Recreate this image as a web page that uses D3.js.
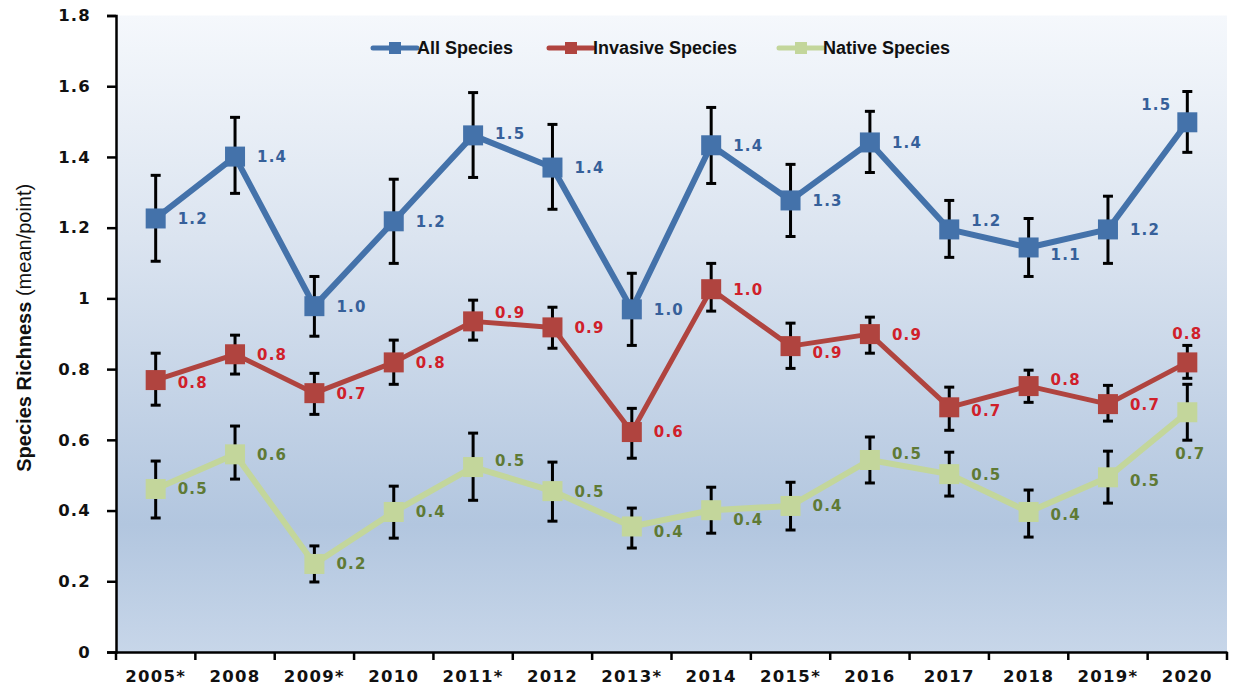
<!DOCTYPE html>
<html>
<head>
<meta charset="utf-8">
<script src="https://cdn.jsdelivr.net/npm/d3@7"></script>
<style>
  html, body { margin: 0; padding: 0; background: #ffffff; }
  svg { display: block; }
</style>
</head>
<body>
<svg id="chart" width="1235" height="691"></svg>
<script>
// ---------------- DATA ----------------
const years = ["2005*", "2008", "2009*", "2010", "2011*", "2012", "2013*", "2014", "2015*", "2016", "2017", "2018", "2019*", "2020"];
const yTicks = [0, 0.2, 0.4, 0.6, 0.8, 1, 1.2, 1.4, 1.6, 1.8];

const allSpecies = [1.226, 1.401, 0.978, 1.218, 1.461, 1.370, 0.969, 1.433, 1.277, 1.441, 1.195, 1.144, 1.195, 1.498];
const allUpper   = [1.348, 1.512, 1.062, 1.337, 1.582, 1.492, 1.071, 1.540, 1.379, 1.529, 1.277, 1.226, 1.289, 1.585];
const allLower   = [1.105, 1.297, 0.893, 1.099, 1.342, 1.252, 0.867, 1.325, 1.175, 1.356, 1.116, 1.062, 1.099, 1.413];

const invasiveSpecies = [0.769, 0.842, 0.732, 0.819, 0.935, 0.918, 0.622, 1.026, 0.865, 0.899, 0.692, 0.752, 0.701, 0.819];
const invasiveUpper   = [0.845, 0.896, 0.788, 0.882, 0.995, 0.975, 0.689, 1.099, 0.930, 0.947, 0.749, 0.797, 0.754, 0.867];
const invasiveLower   = [0.698, 0.786, 0.672, 0.757, 0.882, 0.859, 0.548, 0.964, 0.802, 0.845, 0.627, 0.706, 0.653, 0.774];

const nativeSpecies = [0.461, 0.559, 0.249, 0.396, 0.523, 0.455, 0.355, 0.401, 0.413, 0.543, 0.503, 0.396, 0.494, 0.678];
const nativeUpper   = [0.540, 0.639, 0.300, 0.469, 0.619, 0.537, 0.407, 0.466, 0.480, 0.608, 0.565, 0.458, 0.568, 0.757];
const nativeLower   = [0.379, 0.489, 0.198, 0.322, 0.429, 0.370, 0.294, 0.336, 0.345, 0.478, 0.441, 0.325, 0.421, 0.599];

const seriesNames = ["All Species", "Invasive Species", "Native Species"];

// ---------------- LAYOUT / STYLE ----------------
const W = 1235, H = 691;
const plot = { left: 116, right: 1227, top: 15.5, bottom: 652 };

// label placement tweaks (pixel offsets, layout only)
const D = { dx: 22, dy: 0, anchor: "start" };
const allLabelPos = [D, D, D, D, {dx:22,dy:-2}, D, D, D, D, D, {dx:22,dy:-9}, {dx:22,dy:7}, D, {dx:-16,dy:-18,anchor:"end"}];
const invLabelPos = [{dx:22,dy:3}, D, D, D, {dx:22,dy:-9}, D, D, D, {dx:22,dy:6}, D, {dx:22,dy:3}, {dx:22,dy:-6}, D, {dx:0,dy:-29,anchor:"middle"}];
const natLabelPos = [D, D, D, D, {dx:22,dy:-6}, D, {dx:22,dy:5}, {dx:22,dy:9}, D, {dx:22,dy:-6}, D, {dx:22,dy:3}, {dx:22,dy:3}, {dx:3,dy:41,anchor:"middle"}];

const series = [
  { name: seriesNames[0], values: allSpecies, upper: allUpper, lower: allLower, line: "#4472aa", fill: "#4472aa", label: "#36609a", width: 6, pos: allLabelPos },
  { name: seriesNames[1], values: invasiveSpecies, upper: invasiveUpper, lower: invasiveLower, line: "#b0443f", fill: "#b0443f", label: "#d0202a", width: 5, pos: invLabelPos },
  { name: seriesNames[2], values: nativeSpecies, upper: nativeUpper, lower: nativeLower, line: "#c3d69b", fill: "#c3d69b", label: "#5f7a35", width: 6, pos: natLabelPos }
];

const svg = d3.select("#chart");

const x = d3.scaleBand().domain(years).range([plot.left, plot.right]).padding(0);
const y = d3.scaleLinear().domain([0, 1.8]).range([plot.bottom, plot.top]);
const cx = d => x(d) + x.bandwidth() / 2;

// background gradient
const defs = svg.append("defs");
const grad = defs.append("linearGradient").attr("id", "bg").attr("x1", 0).attr("y1", 0).attr("x2", 0).attr("y2", 1);
grad.append("stop").attr("offset", "0%").attr("stop-color", "#f5f8fc");
grad.append("stop").attr("offset", "35%").attr("stop-color", "#dbe4f0");
grad.append("stop").attr("offset", "80%").attr("stop-color", "#b2c6df");
grad.append("stop").attr("offset", "100%").attr("stop-color", "#c7d6e9");

svg.append("rect")
  .attr("x", plot.left).attr("y", plot.top)
  .attr("width", plot.right - plot.left).attr("height", plot.bottom - plot.top)
  .attr("fill", "url(#bg)");

// axes
const yAxis = d3.axisLeft(y).tickValues(yTicks).tickSize(9).tickPadding(16)
  .tickFormat(d => d === 0 ? "0" : String(+d.toFixed(1)));
const gy = svg.append("g").attr("transform", `translate(${plot.left},0)`).call(yAxis);
gy.select(".domain").attr("stroke", "#000").attr("stroke-width", 2.5);
gy.selectAll(".tick line").attr("stroke", "#000").attr("stroke-width", 2.5);
gy.selectAll(".tick text")
  .attr("font-family", "DejaVu Sans").attr("font-weight", "bold").attr("font-size", 16.5)
  .attr("fill", "#111").attr("letter-spacing", 1.2);

const xAxis = d3.axisBottom(x).tickSize(0).tickPadding(18);
const gx = svg.append("g").attr("transform", `translate(0,${plot.bottom})`).call(xAxis);
gx.select(".domain").attr("stroke", "#000").attr("stroke-width", 2.5);
gx.selectAll(".tick text")
  .attr("font-family", "DejaVu Sans").attr("font-weight", "bold").attr("font-size", 16.5)
  .attr("fill", "#111").attr("letter-spacing", 1.3);
// boundary ticks between categories
const bounds = years.map(d => x(d)).concat([x(years[years.length - 1]) + x.bandwidth()]);
gx.selectAll(".bound").data(bounds).enter().append("line")
  .attr("x1", d => d).attr("x2", d => d).attr("y1", 0).attr("y2", 8)
  .attr("stroke", "#000").attr("stroke-width", 2.5);

// y axis title
const yt = svg.append("text")
  .attr("transform", `translate(31,${(plot.top + plot.bottom) / 2 - 6}) rotate(-90)`)
  .attr("text-anchor", "middle")
  .attr("font-family", "Liberation Sans").attr("font-size", 20).attr("fill", "#111");
yt.append("tspan").attr("font-weight", "bold").text("Species Richness ");
yt.append("tspan").text("(mean/point)");

// lines
const lineGen = d3.line().x((d, i) => cx(years[i])).y(d => y(d));
series.forEach(s => {
  svg.append("path").datum(s.values)
    .attr("d", lineGen).attr("fill", "none")
    .attr("stroke", s.line).attr("stroke-width", s.width)
    .attr("stroke-linejoin", "round");
});

// error bars
series.forEach(s => {
  const g = svg.append("g");
  s.values.forEach((v, i) => {
    const xx = cx(years[i]);
    g.append("line").attr("x1", xx).attr("x2", xx).attr("y1", y(s.upper[i])).attr("y2", y(s.lower[i]))
      .attr("stroke", "#000").attr("stroke-width", 3);
    [s.upper[i], s.lower[i]].forEach(e => {
      g.append("line").attr("x1", xx - 5).attr("x2", xx + 5).attr("y1", y(e)).attr("y2", y(e))
        .attr("stroke", "#000").attr("stroke-width", 3);
    });
  });
});

// markers
const M = 20;
series.forEach(s => {
  svg.append("g").selectAll("rect").data(s.values).enter().append("rect")
    .attr("x", (d, i) => cx(years[i]) - M / 2)
    .attr("y", d => y(d) - M / 2)
    .attr("width", M).attr("height", M)
    .attr("fill", s.fill);
});

// data labels
series.forEach(s => {
  svg.append("g").selectAll("text").data(s.values).enter().append("text")
    .attr("x", (d, i) => cx(years[i]) + (s.pos[i].dx))
    .attr("y", (d, i) => y(d) + (s.pos[i].dy || 0))
    .attr("dy", "0.36em")
    .attr("text-anchor", (d, i) => s.pos[i].anchor || "start")
    .attr("font-family", "DejaVu Sans").attr("font-weight", "bold").attr("font-size", 15)
    .attr("letter-spacing", 1.2)
    .attr("fill", s.label)
    .text(d => d.toFixed(1));
});

// legend
const legendX = [373, 549, 779];
const legendY = 48;
series.forEach((s, i) => {
  const g = svg.append("g").attr("transform", `translate(${legendX[i]},${legendY})`);
  g.append("line").attr("x1", 0).attr("x2", 44).attr("y1", 0).attr("y2", 0)
    .attr("stroke", s.line).attr("stroke-width", 5).attr("stroke-linecap", "round");
  g.append("rect").attr("x", 16).attr("y", -6).attr("width", 12).attr("height", 12).attr("fill", s.fill);
  g.append("text").attr("x", 44).attr("y", 0).attr("dy", "0.35em")
    .attr("font-family", "Liberation Sans").attr("font-weight", "bold").attr("font-size", 18)
    .attr("fill", "#111").text(s.name);
});
</script>
</body>
</html>
